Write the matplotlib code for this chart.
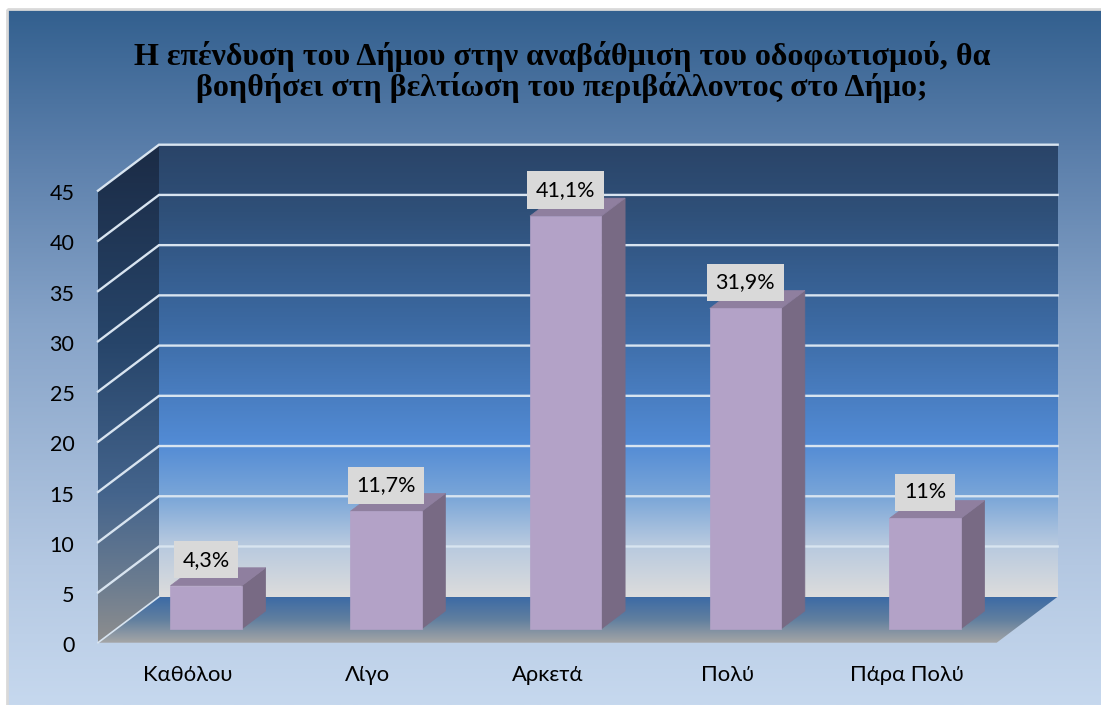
import numpy as np
import matplotlib
matplotlib.use("Agg")
import matplotlib.pyplot as plt
from matplotlib.colors import LinearSegmentedColormap
from matplotlib.patches import Polygon, Rectangle
from matplotlib.transforms import ScaledTranslation

title = "Η επένδυση του Δήμου στην αναβάθμιση του οδοφωτισμού, θα\nβοηθήσει στη βελτίωση του περιβάλλοντος στο Δήμο;"
categories = ["Καθόλου", "Λίγο", "Αρκετά", "Πολύ", "Πάρα Πολύ"]
values = [4.3, 11.7, 41.1, 31.9, 11]
value_labels = ["4,3%", "11,7%", "41,1%", "31,9%", "11%"]
y_ticks = [0, 5, 10, 15, 20, 25, 30, 35, 40, 45]

W, H = 1101, 705
# front plane of the chart in pixels
X0, X1, Y0, Y45 = 98, 996.7, 642.7, 190.7
DX = 61 / ((X1 - X0) / 5)
DY = 46 / ((Y0 - Y45) / 45)


def proj(x, y, d):
    return (x + DX * d, y + DY * d)


def gradient(ax, stops, extent, clip=None, zorder=1):
    # stops go from top to bottom
    cmap = LinearSegmentedColormap.from_list("g", stops)
    im = ax.imshow(np.linspace(0, 1, 256).reshape(-1, 1), cmap=cmap, aspect="auto",
                   extent=extent, origin="upper", zorder=zorder, interpolation="bilinear")
    # images stop at the axes box unless told otherwise
    im.set_clip_box(ax.figure.bbox)
    if clip is not None:
        poly = Polygon(clip, closed=True, transform=ax.transData, fc="none", ec="none")
        ax.add_patch(poly)
        im.set_clip_path(poly)
    return im


fig = plt.figure(figsize=(W / 100, H / 100), dpi=100, facecolor="white")

# panel background and title
bg = fig.add_axes([0, 0, 1, 1])
bg.axis("off")
panel_stops = [(0, "#33608f"), (0.2, "#5a7eaa"), (0.45, "#86a3c8"), (0.8, "#b4c8e2"), (1, "#c6d8ee")]
gradient(bg, panel_stops, (8, W, H, 10))
bg.add_patch(Rectangle((7, 9), W, H, fc="none", ec="#d9d9d9", lw=2, zorder=2))
bg.set_xlim(0, W)
bg.set_ylim(H, 0)
bg.text(562, 72, title, ha="center", va="center", family="Liberation Serif",
        weight="bold", fontsize=23, linespacing=1.04, color="black", zorder=3)

# chart axes, front plane
ax = fig.add_axes([X0 / W, 1 - Y0 / H, (X1 - X0) / W, (Y0 - Y45) / H])
ax.patch.set_visible(False)
for s in ax.spines.values():
    s.set_visible(False)

top = proj(0, 45, 1)
floor_b = proj(5, 0, 1)

wall_stops = [(0, "#2a4468"), (0.15, "#2f5079"), (0.4, "#3c6aa3"), (0.66, "#528bd5"),
              (0.78, "#7aa6d8"), (0.88, "#b5c8df"), (1, "#dcdcdc")]
gradient(ax, wall_stops, (top[0], floor_b[0], floor_b[1], top[1]))

side = [proj(0, 0, 0), proj(0, 45, 0), proj(0, 45, 1), proj(0, 0, 1)]
side_stops = [(0, "#1b2b45"), (0.4, "#27456a"), (0.7, "#44648c"), (0.88, "#6b7c90"), (1, "#8e8e8e")]
gradient(ax, side_stops, (0, DX, 0, 45 + DY), clip=side)

floor = [proj(0, 0, 0), proj(5, 0, 0), proj(5, 0, 1), proj(0, 0, 1)]
floor_stops = [(0, "#3c6aa5"), (0.5, "#62809f"), (1, "#a6a6a6")]
gradient(ax, floor_stops, (0, 5 + DX, 0, DY), clip=floor)

# gridlines on the walls
for t in y_ticks:
    a, b, c = proj(0, t, 0), proj(0, t, 1), proj(5, t, 1)
    if t > 0:
        ax.plot([a[0], b[0], c[0]], [a[1], b[1], c[1]], color="#d8e4f0", lw=1.7,
                clip_on=False, zorder=3, solid_joinstyle="miter")
    else:
        ax.plot([a[0], b[0]], [a[1], b[1]], color="#d8e4f0", lw=1.2, clip_on=False, zorder=3)

# bars
bar_w = 0.397
for i, v in enumerate(values):
    x0 = i + 0.5 - bar_w / 2
    x1 = i + 0.5 + bar_w / 2
    d0, d1 = 0.3, 0.69
    front = [proj(x0, 0, d0), proj(x1, 0, d0), proj(x1, v, d0), proj(x0, v, d0)]
    right = [proj(x1, 0, d0), proj(x1, 0, d1), proj(x1, v, d1), proj(x1, v, d0)]
    roof = [proj(x0, v, d0), proj(x1, v, d0), proj(x1, v, d1), proj(x0, v, d1)]
    ax.add_patch(Polygon(right, fc="#786a84", ec="#786a84", lw=0.5, zorder=4, clip_on=False))
    ax.add_patch(Polygon(roof, fc="#8f7f9f", ec="#8f7f9f", lw=0.5, zorder=4, clip_on=False))
    ax.add_patch(Polygon(front, fc="#b3a2c7", ec="#b3a2c7", lw=0.5, zorder=5, clip_on=False))
    px, py = proj(i + 0.5, v, d0)
    ax.annotate(value_labels[i], (px, py), xytext=(0, 18.7), textcoords="offset points",
                ha="center", va="center", family="Lato", fontsize=15.5, color="black",
                zorder=6, annotation_clip=False,
                bbox=dict(boxstyle="square,pad=0.4", fc="#d9d9d9", ec="none"))

ax.set_xlim(0, 5)
ax.set_ylim(0, 45)
ax.set_xticks([i + 0.5 for i in range(len(categories))])
ax.set_xticklabels(categories, family="Lato", fontsize=15.8)
ax.set_yticks(y_ticks)
ax.set_yticklabels([str(t) for t in y_ticks], family="Lato", fontsize=15.5)
ax.tick_params(axis="x", length=0, pad=16)
ax.tick_params(axis="y", length=0, pad=17)
# labels sit a little below the gridline ends
down = ScaledTranslation(0, -1.5 / 100, fig.dpi_scale_trans)
for lab in ax.get_yticklabels():
    lab.set_transform(lab.get_transform() + down)

fig.savefig("out.png", dpi=100, facecolor="white")
